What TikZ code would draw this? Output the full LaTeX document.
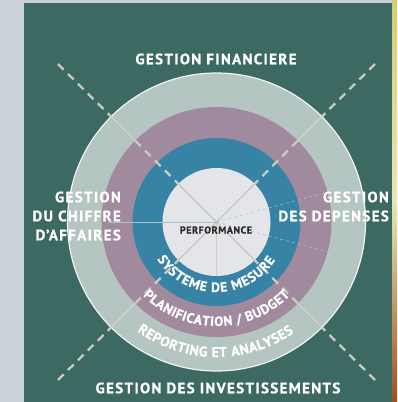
\documentclass[tikz,border=0pt]{standalone}
\usepackage{fontspec}
\setmainfont{PT Sans}[BoldFeatures={FakeBold=0.8}]
\usetikzlibrary{decorations.text}

\definecolor{pagegray}{HTML}{CBD3DA}
\definecolor{panelgreen}{HTML}{3C6A62}
\definecolor{ringgray}{HTML}{B5C5C2}
\definecolor{ringmauve}{HTML}{A28A9E}
\definecolor{ringblue}{HTML}{3783A6}
\definecolor{corewhite}{HTML}{E4E5E9}
\definecolor{dashgray}{HTML}{C8CCBE}
\definecolor{finegray}{HTML}{A9C2D0}
\definecolor{darktext}{HTML}{2A2A2A}

\begin{document}
\begin{tikzpicture}[x=1pt,y=1pt,
    side label/.style={text=white,font=\bfseries\fontsize{15}{19}\selectfont\addfontfeature{LetterSpace=9},inner sep=0pt},
    axe/.style={draw=dashgray,line width=2.3pt,dash pattern=on 8pt off 6pt},
    fine/.style={draw=finegray,line width=0.5pt},
    arc text/.style={decorate,decoration={text along path,text align=fit to path,text color=white,text={#1}}}]

 \useasboundingbox (0,0) rectangle (397,-402);

 % background
 \fill[pagegray] (0,0) rectangle (397,-402);
 \fill[panelgreen] (24,-3) rectangle (392,-402);
 \shade[top color={rgb,255:red,214;green,203;blue,112},bottom color={rgb,255:red,160;green,80;blue,30},
        middle color={rgb,255:red,228;green,232;blue,184}] (392,0) rectangle (397,-402);

 \coordinate (C) at (216.5,-222);
 \coordinate (nw) at (58,-64);
 \coordinate (ne) at (375,-64);
 \coordinate (sw) at (58,-380);
 \coordinate (se) at (375,-380);

 % rings
 \fill[ringgray] (C) circle (149);
 \draw[white!80!ringgray,line width=1.2pt] (C) circle (149);
 \fill[ringmauve] (C) circle (115);
 \fill[ringblue] (C) circle (84);

 % diagonals
 \foreach \a/\p in {135/nw,45/ne,225/sw,-45/se}{
   \draw[axe] (\p) -- ([shift={(\a:149)}]C);
   \draw[dashgray!85!white,line width=1.3pt] ([shift={(\a:149)}]C) -- ([shift={(\a:115)}]C);
   \draw[axe] ([shift={(\a:115)}]C) -- (C);
 }

 \fill[corewhite] (C) circle (54);

 % fine lines
 \draw[fine] (C) -- ++(180:108);
 \draw[fine,dashed] (C) -- ++(15:146);
 \draw[fine,dashed] (C) -- ++(-15:146);
 \draw[fine,draw=white!60!gray] (C) -- ++(-90:54);
 \foreach \a in {135,45,225,-45}
   \draw[fine,draw=dashgray!80!gray,line width=0.8pt] (C) -- ++(\a:54);

 % labels
 \node[side label] (fin) at (216,-59) {GESTION FINANCIERE};
 \node[side label,align=right,anchor=east] (ca) at (121,-216) {GESTION\\DU CHIFFRE\\D'AFFAIRES};
 \node[side label,align=right,anchor=east] (dep) at (389,-206.5) {GESTION\\DES DEPENSES};
 \node[side label] (inv) at (218,-388) {GESTION DES INVESTISSEMENTS};
 \node[text=darktext,font=\bfseries\fontsize{10}{10}\selectfont\addfontfeature{LetterSpace=6},inner sep=0pt] (perf) at (216,-230) {PERFORMANCE};

 % ring titles
 \begin{scope}
  \bfseries\fontsize{13.5}{13.5}\selectfont
  \path[arc text={SYSTEME DE MESURE}]
    (C) ++(212:70) arc[start angle=212,end angle=327,radius=70];
  \path[arc text={PLANIFICATION / BUDGET}]
    (C) ++(225:104) arc[start angle=225,end angle=315,radius=104];
  \fontsize{14}{14}\selectfont
  \path[arc text={REPORTING ET ANALYSES}]
    (C) ++(234:135) arc[start angle=234,end angle=305,radius=135];
 \end{scope}

\end{tikzpicture}
\end{document}
